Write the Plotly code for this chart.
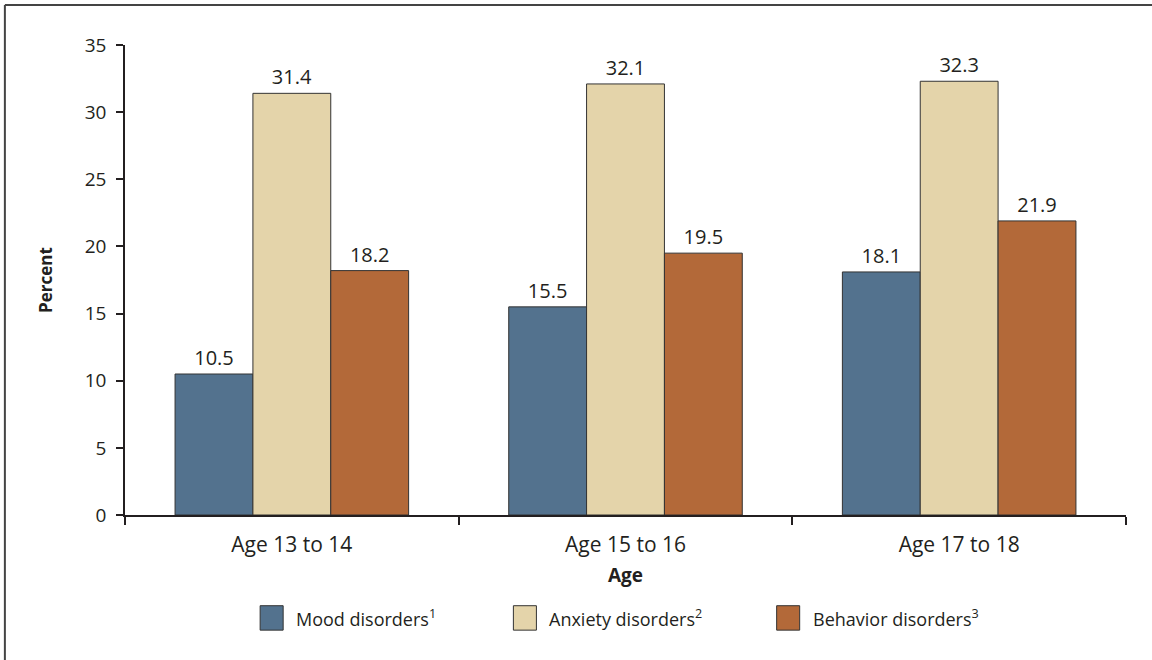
import plotly.graph_objects as go

# Age groups and prevalence (percent) by disorder class
age_groups = ["Age 13 to 14", "Age 15 to 16", "Age 17 to 18"]
mood = [10.5, 15.5, 18.1]
anxiety = [31.4, 32.1, 32.3]
behavior = [18.2, 19.5, 21.9]

series_names = ["Mood disorders<sup>1</sup>", "Anxiety disorders<sup>2</sup>", "Behavior disorders<sup>3</sup>"]
series_colors = ["#53728e", "#e4d4aa", "#b36939"]
y_ticks = [0, 5, 10, 15, 20, 25, 30, 35]

FONT = "Open Sans"
INK = "#231f20"

fig = go.Figure()
for name, vals, color in zip(series_names, [mood, anxiety, behavior], series_colors):
    fig.add_trace(go.Bar(
        x=age_groups, y=vals, name=name,
        marker=dict(color=color, line=dict(color="#333333", width=1)),
        text=vals, texttemplate="%{text:.1f}", textposition="outside",
        textfont=dict(family=FONT, size=20, color=INK),
        cliponaxis=False, showlegend=False,
    ))

fig.update_layout(
    width=1152, height=660,
    margin=dict(l=125, r=26, t=45, b=145),
    paper_bgcolor="white", plot_bgcolor="white",
    barmode="group", bargap=0.3, bargroupgap=0,
    font=dict(family=FONT, size=19, color=INK),
    uniformtext=dict(minsize=20, mode="show"),
    xaxis=dict(
        type="category", showline=True, linecolor=INK, linewidth=1.5,
        ticks="outside", tickson="boundaries", ticklen=8, tickcolor=INK, tickwidth=1.5,
        tickfont=dict(size=21), ticklabelstandoff=10, showgrid=False, zeroline=False,
    ),
    yaxis=dict(
        range=[0, 35], tickvals=y_ticks, showline=True, linecolor=INK, linewidth=1.5,
        ticks="outside", ticklen=7, tickcolor=INK, tickwidth=1.5,
        tickfont=dict(size=19), ticklabelstandoff=6, showgrid=False, zeroline=False,
    ),
)

# Axis titles
fig.add_annotation(text="<b>Percent</b>", xref="paper", yref="paper", x=-0.08, y=0.5,
                   xanchor="center", yanchor="middle", textangle=-90, showarrow=False,
                   font=dict(size=17, color=INK))
fig.add_annotation(text="<b>Age</b>", xref="paper", yref="paper", x=0.5, y=-0.128,
                   xanchor="center", yanchor="middle", showarrow=False,
                   font=dict(size=19, color=INK))

# Legend row: swatches and labels
legend_x = [0.135, 0.388, 0.651]
for lx, name, color in zip(legend_x, series_names, series_colors):
    fig.add_shape(type="rect", xref="paper", yref="paper",
                  x0=lx, x1=lx + 0.023, y0=-0.245, y1=-0.193,
                  fillcolor=color, line=dict(color="#333333", width=1))
    fig.add_annotation(text=name, xref="paper", yref="paper", x=lx + 0.034, y=-0.219,
                       xanchor="left", yanchor="middle", showarrow=False,
                       font=dict(size=18, color=INK))

# Outer frame
fig.add_shape(type="line", xref="paper", yref="paper", x0=-0.12, x1=1.1, y0=1.085, y1=1.085,
              line=dict(color="#444444", width=2))
fig.add_shape(type="line", xref="paper", yref="paper", x0=-0.12, x1=-0.12, y0=1.085, y1=-0.35,
              line=dict(color="#444444", width=2))

fig.write_html("out.html")
